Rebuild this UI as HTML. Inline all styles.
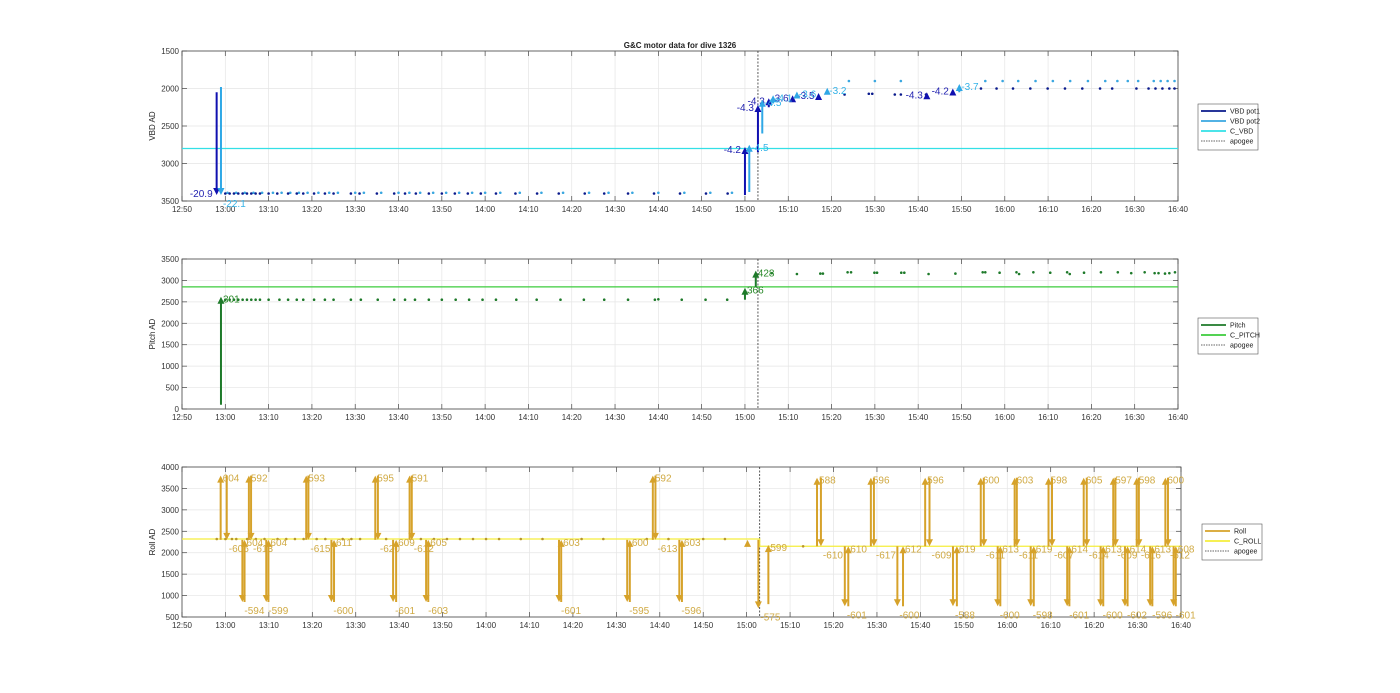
<!DOCTYPE html>
<html><head><meta charset="utf-8"><style>
html,body{margin:0;padding:0;background:#fff;}
svg{display:block;font-family:"Liberation Sans",sans-serif;}
</style></head><body>
<svg id="chart" width="1400" height="693" viewBox="0 0 1400 693" xmlns="http://www.w3.org/2000/svg">
<rect width="1400" height="693" fill="#fff"/>
<text x="680" y="48" text-anchor="middle" font-size="8" font-weight="bold" fill="#222">G&amp;C motor data for dive 1326</text>
</svg>
<script>
// ---------- DATA (minutes after 12:50) ----------
const apogeeT = 133;
const xTickLabels = ["12:50","13:00","13:10","13:20","13:30","13:40","13:50","14:00","14:10","14:20","14:30","14:40","14:50","15:00","15:10","15:20","15:30","15:40","15:50","16:00","16:10","16:20","16:30","16:40"];
const vbdTicks = [1500,2000,2500,3000,3500];
const pitchTicks = [0,500,1000,1500,2000,2500,3000,3500];
const rollTicks = [500,1000,1500,2000,2500,3000,3500,4000];

const pot1DotT = [10,11,12,13,14,15,16,17,18,20,22,24.5,26.5,28,30.5,33,35,39,41,45,49,51.5,54,57,60,63,66,69,72.5,77,82,87,93,97.5,103,109,115,121,126,153,158.6,159.4,164.6,166,171.8,184.5,188.1,191.9,195.9,199.9,203.9,207.9,212,214.8,220.4,223.2,224.8,226.4,228,229.2];
const pot1DotV = [3400,3400,3400,3400,3400,3400,3400,3400,3400,3400,3400,3400,3400,3400,3400,3400,3400,3400,3400,3400,3400,3400,3400,3400,3400,3400,3400,3400,3400,3400,3400,3400,3400,3400,3400,3400,3400,3400,3400,2080,2070,2070,2080,2080,2080,2000,2000,2000,2000,2000,2000,2000,2000,2000,2000,2000,2000,2000,2000,2000];
const pot2DotT = [10.5,12.5,14.5,16.5,18.5,21,23,25,27,29,31.5,34,36,40,42,46,50,52.5,55,58,61,64,67,70,73.5,78,83,88,94,98.5,104,110,116,122,127,154,160,166,185.5,189.5,193.1,197.1,201.1,205.1,209.2,213.2,216,218.4,220.8,224.4,226,227.6,229.2];
const pot2DotV = [3390,3390,3390,3390,3390,3390,3390,3390,3390,3390,3390,3390,3390,3390,3390,3390,3390,3390,3390,3390,3390,3390,3390,3390,3390,3390,3390,3390,3390,3390,3390,3390,3390,3390,3390,1900,1900,1900,1900,1900,1900,1900,1900,1900,1900,1900,1900,1900,1900,1900,1900,1900,1900];
const cVbd = 2800;
const pot1ArrT = [8,130,133,135.5,141,147,172,178];
const pot1ArrFrom = [2050,3420,2850,2250,2150,2120,2100,2060];
const pot1ArrTo = [3420,2780,2220,2130,2090,2060,2050,2000];
const pot1ArrLbl = ["-20.9","-4.2","-4.3","-4.3","-3.6","-3.5","-4.3","-4.2"];
const pot2ArrT = [9,131,134,136.5,142,149,179.5];
const pot2ArrFrom = [1980,3380,2600,2200,2120,2050,2050];
const pot2ArrTo = [3420,2750,2150,2090,2040,1990,1940];
const pot2ArrLbl = ["-22.1","-4.5","-4.5","-4.1","-3.6","-3.2","-3.7"];

const pitchDotT = [10,11,12,13,14,15,16,17,18,20,22.5,24.5,26.5,28,30.5,33,35,39,41.3,45.2,49,51.5,53.8,57,60,63.2,66.3,69.4,72.5,77.2,81.9,87.4,92.8,97.5,103,109.2,110,115.4,120.9,125.9,136.2,142,147.4,148,153.7,154.5,159.9,160.5,166.1,166.8,172.4,178.6,184.9,185.5,188.8,192.7,193.3,196.6,200.5,204.4,205,208.3,212.2,216.1,219.2,222.3,224.6,225.5,227,228,229.3];
const pitchDotV = [2550,2550,2550,2550,2550,2550,2550,2550,2550,2550,2550,2550,2550,2550,2550,2550,2550,2550,2550,2550,2550,2550,2550,2550,2550,2550,2550,2550,2550,2550,2550,2550,2550,2550,2550,2550,2560,2550,2550,2550,3170,3150,3160,3160,3190,3190,3180,3180,3180,3180,3150,3160,3190,3190,3180,3190,3150,3190,3180,3190,3150,3180,3190,3190,3170,3190,3170,3170,3160,3170,3190];
const cPitch = 2850;
const pitchArrT = [9,130,132.5];
const pitchArrFrom = [100,2550,2850];
const pitchArrTo = [2620,2830,3230];
const pitchArrLbl = ["301","366","428"];

const rollDotT = [8,10,11.5,12.5,15,17,19,22,24,26,28,31,33,37,39,41,47,55,58,61,64,67,70,73,78,83,92,97,107,112,120,125,143];
const rollDotV = [2320,2320,2320,2320,2320,2320,2320,2320,2320,2320,2320,2320,2320,2320,2320,2320,2320,2320,2320,2320,2320,2320,2320,2320,2320,2320,2320,2320,2320,2320,2320,2320,2150];
const cRollT = [0,133,133,230];
const cRollV = [2320,2320,2150,2150];
const rollArrT = [8.9,10.3,13.9,14.4,15.4,15.9,19.4,19.9,28.6,29.1,34.4,35,44.5,45.1,48.6,49.3,52.4,52.9,56.2,56.7,86.8,87.3,102.5,103.1,108.4,109,114.5,115.1,130.2,132.7,135,146.2,147.1,152.6,153.4,158.6,159.3,164.7,166,171.1,172.1,177.5,178.4,183.9,184.6,187.8,188.4,191.7,192.2,195.4,196.1,199.5,200.3,203.8,204.3,207.6,208.3,211.5,212.1,214.4,214.9,217.1,217.7,219.8,220.3,222.9,223.4,226.4,227,228.3,228.8];
const rollArrFrom = [2300,3800,2300,850,2300,3800,2300,850,2300,3800,2300,850,2300,3800,2300,850,2300,3800,2300,850,2300,850,2300,850,2300,3800,2300,850,2150,2300,800,2150,3750,2150,750,2150,3750,2150,750,2150,3750,2150,750,2150,3750,2150,750,2150,3750,2150,750,2150,3750,2150,750,2150,3750,2150,750,2150,3750,2150,750,2150,3750,2150,750,2150,3750,2150,750];
const rollArrTo = [3800,2300,850,2300,3800,2300,850,2300,3800,2300,850,2300,3800,2300,850,2300,3800,2300,850,2300,850,2300,850,2300,3800,2300,850,2300,2300,700,2180,3750,2150,750,2150,3750,2150,750,2150,3750,2150,750,2150,3750,2150,750,2150,3750,2150,750,2150,3750,2150,750,2150,3750,2150,750,2150,3750,2150,750,2150,3750,2150,750,2150,3750,2150,750,2150];
const rollArrLbl = ["604","-606","-594","604","592","-613","-599","604","593","-615","-600","611","595","-620","-601","609","591","-612","-603","605","-601","603","-595","600","592","-613","-596","603","","-575","599","588","-610","-601","610","596","-617","-600","612","596","-609","-588","619","600","-611","-600","613","603","-611","-598","619","598","-607","-601","614","605","-614","-600","613","597","-609","-602","614","598","-616","-596","613","600","-612","-601","608"];

// ---------- RENDER ----------
const NS = "http://www.w3.org/2000/svg";
const svg = document.getElementById("chart");
function mk(tag, attrs, parent){const e=document.createElementNS(NS,tag);for(const k in attrs)e.setAttribute(k,attrs[k]);(parent||svg).appendChild(e);return e;}

function makeAxis(cfg){
  const ax = {x0:cfg.x0,x1:cfg.x1,y0:cfg.y0,y1:cfg.y1,vmin:cfg.vmin,vmax:cfg.vmax,rev:cfg.rev};
  ax.x = t => ax.x0 + t*(ax.x1-ax.x0)/230;
  ax.y = v => { const f=(v-ax.vmin)/(ax.vmax-ax.vmin); return ax.rev ? ax.y0 + f*(ax.y1-ax.y0) : ax.y1 - f*(ax.y1-ax.y0); };
  const g = mk("g",{});
  
  
  mk("rect",{x:ax.x0,y:ax.y0,width:ax.x1-ax.x0,height:ax.y1-ax.y0,fill:"#fff"},g);
  xTickLabels.forEach((lab,i)=>{
    const x=ax.x(i*10);
    mk("line",{x1:x,x2:x,y1:ax.y0,y2:ax.y1,stroke:"#e5e5e5","stroke-width":0.7},g);
    mk("line",{x1:x,x2:x,y1:ax.y1,y2:ax.y1-5,stroke:"#444","stroke-width":0.7},g);
    mk("line",{x1:x,x2:x,y1:ax.y0,y2:ax.y0+5,stroke:"#444","stroke-width":0.7},g);
    const t=mk("text",{x:x,y:ax.y1+11,"text-anchor":"middle","font-size":8,fill:"#333"},g);
    t.textContent=lab;
    
    
  });
  cfg.ticks.forEach(v=>{
    const y=ax.y(v);
    mk("line",{x1:ax.x0,x2:ax.x1,y1:y,y2:y,stroke:"#e5e5e5","stroke-width":0.7},g);
    mk("line",{x1:ax.x0,x2:ax.x0+5,y1:y,y2:y,stroke:"#444","stroke-width":0.7},g);
    mk("line",{x1:ax.x1,x2:ax.x1-5,y1:y,y2:y,stroke:"#444","stroke-width":0.7},g);
    const t=mk("text",{x:ax.x0-3,y:y+3,"text-anchor":"end","font-size":8,fill:"#333"},g);
    t.textContent=v;
    
    
  });
  mk("rect",{x:ax.x0,y:ax.y0,width:ax.x1-ax.x0,height:ax.y1-ax.y0,fill:"none",stroke:"#444","stroke-width":0.8},g);
  const yl=mk("text",{x:0,y:0,"text-anchor":"middle","font-size":8,fill:"#222",transform:`translate(${ax.x0-27},${(ax.y0+ax.y1)/2}) rotate(-90)`},g);
  yl.textContent=cfg.ylabel;
  
  
  const ap=mk("line",{x1:ax.x(apogeeT),x2:ax.x(apogeeT),y1:ax.y0,y2:ax.y1,stroke:"#333","stroke-width":0.8,"stroke-dasharray":"2,1.5"});
  
  
  return ax;
}
function hline(ax,v,color,w,name){
  const l=mk("line",{x1:ax.x0,x2:ax.x1,y1:ax.y(v),y2:ax.y(v),stroke:color,"stroke-width":w});
  
  
}
function dots(ax,T,V,color,name){
  T.forEach((t,i)=>{
    const c=mk("circle",{cx:ax.x(t),cy:ax.y(V[i]),r:1.3,fill:color});
    
    
  });
}
function arrows(ax,T,F,To,L,color,lcolor,name,lblMode){
  T.forEach((t,i)=>{
    const x=ax.x(t), y1=ax.y(F[i]), y2=ax.y(To[i]);
    const dir = y2<y1 ? -1 : 1;
    const g=mk("g",{});
    
    
    mk("line",{x1:x,x2:x,y1:y1,y2:y2-dir*5,stroke:color,"stroke-width":2},g);
    mk("polygon",{points:`${x-3.5},${y2-dir*7} ${x+3.5},${y2-dir*7} ${x},${y2}`,fill:color},g);
    if(L[i]!==""){
      let tx,ty,anchor="start";
      if(lblMode==="left"){ tx=x-4; ty=y2+(dir>0?0:6); anchor="end"; if(i===0){ty=y2+2;} }
      else { tx=x+2; ty= dir<0 ? y2+6 : y2+12; }
      const t=mk("text",{x:tx,y:ty,"text-anchor":anchor,"font-size":10,fill:lcolor},g);
      t.textContent=L[i];
      
      
    }
  });
}
function legend(x,y,w,items,name){
  const g=mk("g",{});
  
  
  const h=items.length*10+6;
  mk("rect",{x:x,y:y,width:w,height:h,fill:"#fff",stroke:"#555","stroke-width":0.6},g);
  items.forEach((it,i)=>{
    const yy=y+7+i*10;
    mk("line",{x1:x+3,x2:x+28,y1:yy,y2:yy,stroke:it[1],"stroke-width":it[2]?0.8:1.8,"stroke-dasharray":it[2]?"1.5,1":"none"},g);
    const t=mk("text",{x:x+32,y:yy+2.5,"font-size":7,fill:"#222"},g);
    t.textContent=it[0];
    
    
  });
}

// Top VBD
const axV = makeAxis({name:"vbd-axes",x0:182,x1:1178,y0:51,y1:201,vmin:1500,vmax:3500,rev:true,ticks:vbdTicks,ylabel:"VBD AD"});
hline(axV,cVbd,"#33e0e6",1.2,"c-vbd-line");
dots(axV,pot2DotT,pot2DotV,"#3aa7e0","vbd-pot2-point");
dots(axV,pot1DotT,pot1DotV,"#0a1a8c","vbd-pot1-point");
arrows(axV,pot1ArrT,pot1ArrFrom,pot1ArrTo,pot1ArrLbl,"#1010b0","#2222b0","vbd-pot1-arrow","left");
arrows(axV,pot2ArrT,pot2ArrFrom,pot2ArrTo,pot2ArrLbl,"#2fa8e6","#35b3e8","vbd-pot2-arrow","right");
legend(1198,104,60,[["VBD pot1","#0a1a8c"],["VBD pot2","#3aa7e0"],["C_VBD","#33e0e6"],["apogee","#333",true]],"vbd-legend");

// Middle Pitch
const axP = makeAxis({name:"pitch-axes",x0:182,x1:1178,y0:259,y1:409,vmin:0,vmax:3500,rev:false,ticks:pitchTicks,ylabel:"Pitch AD"});
hline(axP,cPitch,"#3ccc3c",1.2,"c-pitch-line");
dots(axP,pitchDotT,pitchDotV,"#1e7a2a","pitch-point");
arrows(axP,pitchArrT,pitchArrFrom,pitchArrTo,pitchArrLbl,"#1e7a2a","#2a8a2a","pitch-arrow","right");
legend(1198,318,60,[["Pitch","#1e7a2a"],["C_PITCH","#3ccc3c"],["apogee","#333",true]],"pitch-legend");

// Bottom Roll
const axR = makeAxis({name:"roll-axes",x0:182,x1:1181,y0:467,y1:617,vmin:500,vmax:4000,rev:false,ticks:rollTicks,ylabel:"Roll AD"});
const cr=mk("polyline",{points:cRollT.map((t,i)=>axR.x(t)+","+axR.y(cRollV[i])).join(" "),fill:"none",stroke:"#f5ee3c","stroke-width":1.3});


dots(axR,rollDotT,rollDotV,"#b8962a","roll-point");
arrows(axR,rollArrT,rollArrFrom,rollArrTo,rollArrLbl,"#d6a22a","#d0aa44","roll-arrow","right");
legend(1202,524,60,[["Roll","#d6a22a"],["C_ROLL","#f5ee3c"],["apogee","#333",true]],"roll-legend");
</script>
</body></html>
